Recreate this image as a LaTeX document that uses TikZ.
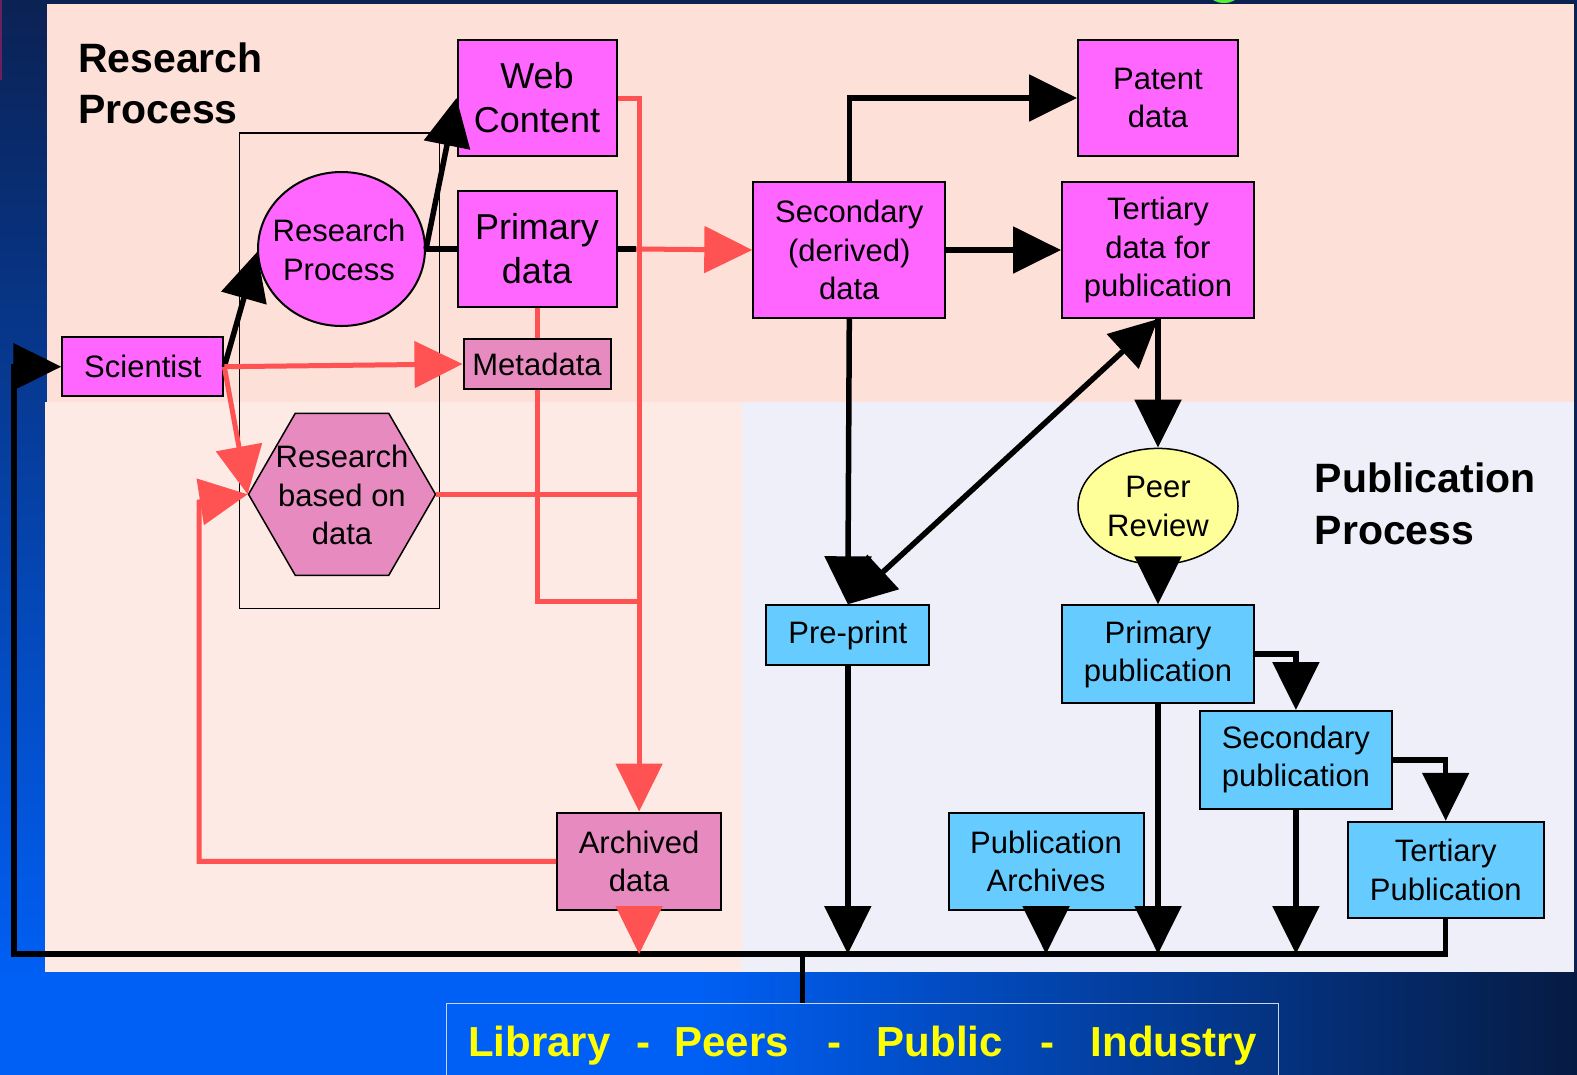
\documentclass[tikz,border=0pt]{standalone}
\usepackage{fontspec}
\setmainfont{Liberation Sans}
\usetikzlibrary{arrows.meta,shapes.geometric,calc}

% palette
\definecolor{magentabox}{HTML}{FF66FF}
\definecolor{orchidbox}{HTML}{E68ABF}
\definecolor{skybox}{HTML}{66CCFF}
\definecolor{peerfill}{HTML}{FFFF99}
\definecolor{redline}{HTML}{FF5252}
\definecolor{panelTop}{HTML}{FDE0D8}
\definecolor{panelLow}{HTML}{FEEAE4}
\definecolor{panelPub}{HTML}{EFEFF9}
\definecolor{navy}{HTML}{0B2152}
\definecolor{navyDeep}{HTML}{061A40}
\definecolor{brightblue}{HTML}{005FF4}
\definecolor{libyellow}{HTML}{FFFF00}
\definecolor{libframe}{HTML}{C8D6F2}
\definecolor{sliver}{HTML}{6B2160}
\definecolor{blobgreen}{HTML}{55EE33}

\newcommand\diagfont{\fontsize{31}{38.2}\selectfont}
\newcommand\diagbig{\fontsize{36}{44}\selectfont}
\newcommand\diagtitle{\fontsize{41}{51.3}\selectfont\bfseries}

\begin{document}
\begin{tikzpicture}[x=1pt,y=-1pt,
  nbox/.style={draw=black, line width=2pt, inner sep=0pt, align=center, font=\diagfont},
  datanode/.style={nbox, fill=magentabox},
  recnode/.style={nbox, fill=orchidbox},
  pubnode/.style={nbox, fill=skybox},
  lbltext/.style={inner sep=0pt, align=center, font=\diagfont},
  ttl/.style={inner sep=0pt, align=left, font=\diagtitle, text=black},
  blk/.style={draw=black, line width=5.5pt},
  rdl/.style={draw=redline, line width=5pt},
  headend/.style={-{Triangle[length=48pt,width=46pt]}},
  headboth/.style={{Triangle[length=48pt,width=46pt]}-{Triangle[length=48pt,width=46pt]}}
]
\useasboundingbox (0,0) rectangle (1577,1074);

% backdrop
\fill[navy] (-10,-10) rectangle (1590,1090);
\shade[top color=navy, bottom color=brightblue] (-10,-10) rectangle (47,975);
\fill[brightblue] (-10,972) rectangle (700,1090);
\shade[left color=brightblue, right color=navyDeep] (700,972) rectangle (1590,1090);
\fill[sliver] (-5,-5) rectangle (2,80);
\fill[blobgreen] (1224,-5) ellipse [x radius=14pt, y radius=8pt];

% panels
\fill[panelTop] (47,4) rectangle (1574,402);
\fill[panelLow] (45,402) rectangle (742,972);
\fill[panelPub] (742,402) rectangle (1574,972);

% frame round the research core
\draw[line width=1.5pt] (239.4,132.8) rectangle (439.5,608.5);

% section titles
\node[ttl, anchor=base west] (rtitle) at (78,123.5) {Research\\Process};
\node[ttl, anchor=base west] (ptitle) at (1314.5,544) {Publication\\Process};

% research side
\node[datanode, font=\diagbig, minimum width=159pt, minimum height=116pt] (web) at (537,98) {Web\\Content};
\node[datanode, font=\diagbig, minimum width=159pt, minimum height=116pt] (prim) at (537,249) {Primary\\data};
\node[draw=black, line width=2pt, fill=magentabox, ellipse, inner sep=0pt, minimum width=167pt, minimum height=154pt] (rp) at (341.5,249) {};
\node[lbltext] (rptext) at (339,250) {Research\\Process};
\node[datanode, minimum width=161pt, minimum height=59pt] (sci) at (142.8,366.7) {Scientist};
\node[recnode, minimum width=147pt, minimum height=50pt] (meta) at (537,364) {Metadata};
\node[draw=black, line width=1.5pt, fill=orchidbox, regular polygon, regular polygon sides=6, inner sep=0pt, minimum size=187pt] (hex) at (342,494.3) {};
\node[lbltext] (hextext) at (342,495) {Research\\based on\\data};
\node[datanode, minimum width=192pt, minimum height=136pt] (sec) at (849.3,250) {Secondary\\(derived)\\data};
\node[datanode, minimum width=160pt, minimum height=116pt] (pat) at (1158,98) {Patent\\data};
\node[datanode, minimum width=192pt, minimum height=136pt] (tert) at (1158,250) {Tertiary\\data for\\publication};
\node[recnode, minimum width=164pt, minimum height=97.6pt] (arch) at (639.1,861.4) {Archived\\data};

% publication side
\node[nbox, ellipse, line width=1.5pt, fill=peerfill, minimum width=160pt, minimum height=116pt] (peer) at (1158,506.4) {Peer\\Review};
\node[pubnode, minimum width=163pt, minimum height=59.4pt] (pre) at (847.8,635) {Pre-print};
\node[pubnode, minimum width=192pt, minimum height=97.6pt] (ppub) at (1158,654.2) {Primary\\publication};
\node[pubnode, minimum width=192pt, minimum height=97.6pt] (spub) at (1295.9,759.8) {Secondary\\publication};
\node[pubnode, minimum width=195pt, minimum height=97.6pt] (parch) at (1046,861.4) {Publication\\Archives};
\node[pubnode, minimum width=196pt, minimum height=96.5pt] (tpub) at (1445.7,870) {Tertiary\\Publication};

% audience
\node[draw=libframe, line width=1.5pt, inner sep=0pt, minimum width=832pt, minimum height=110pt] (lib) at (862.4,1058.7) {};
\node[inner sep=0pt, text=libyellow, font=\fontsize{42}{50}\selectfont\bfseries] (libtext) at (862.4,1045.7) {Library\hspace{26pt}-\hspace{24pt}Peers\hspace{39pt}-\hspace{35pt}Public\hspace{38pt}-\hspace{36pt}Industry};

% junction points
\coordinate (busL) at (14,954);
\coordinate (busM) at (802.6,954);
\coordinate (primOut) at (636,249);
\coordinate (metaJoin) at (639.1,601.4);
\coordinate (retTurn) at (199,502);

% black flow
\draw[blk, headend] (sci.east) -- (rp.182);
\draw[blk, headend] (rp.east) -- (web.west);
\draw[blk] (rp.east) -- (prim.west);
\draw[blk] (prim.east) -- (primOut);
\draw[blk, headend] (sec.north) |- (pat.west);
\draw[blk, headend] (sec.east) -- (tert.west);
\draw[blk, headend] (sec.south) -- (pre.north);
\draw[blk, headboth] (pre.north) -- (tert.south);
\draw[blk, headend] (tert.south) -- (peer.north);
\draw[blk, headend] (peer.south) -- (ppub.north);
\draw[blk, headend] (ppub.east) -| (spub.north);
\draw[blk, headend] (spub.east) -| (tpub.north);
\draw[blk, headend] (pre.south) -- (pre.south |- busL);
\draw[blk, headend] (parch.south) -- (parch.south |- busL);
\draw[blk, headend] (ppub.south) -- (ppub.south |- busL);
\draw[blk, headend] (spub.south) -- (spub.south |- busL);
\draw[blk, headend] (tpub.south) |- (busL) |- (sci.west);
\draw[draw=black, line width=4.5pt] (busM) -- (busM |- lib.north);

% red data flow
\draw[rdl, headend] (primOut) -- (sec.west);
\draw[rdl] (prim.south) -- (meta.north);
\draw[rdl, headend] (sci.east) -- (meta.west);
\draw[rdl, headend] (sci.east) -- (hex.west);
\draw[rdl, headend] (web.east) -| (arch.north);
\draw[rdl] (meta.south) |- (metaJoin);
\draw[rdl] (hex.east) -- (hex.east -| arch.north);
\draw[rdl, headend] (arch.west) -| (retTurn) -- (hex.west);
\draw[rdl, headend] (arch.south) -- (arch.south |- busL);
\end{tikzpicture}
\end{document}
